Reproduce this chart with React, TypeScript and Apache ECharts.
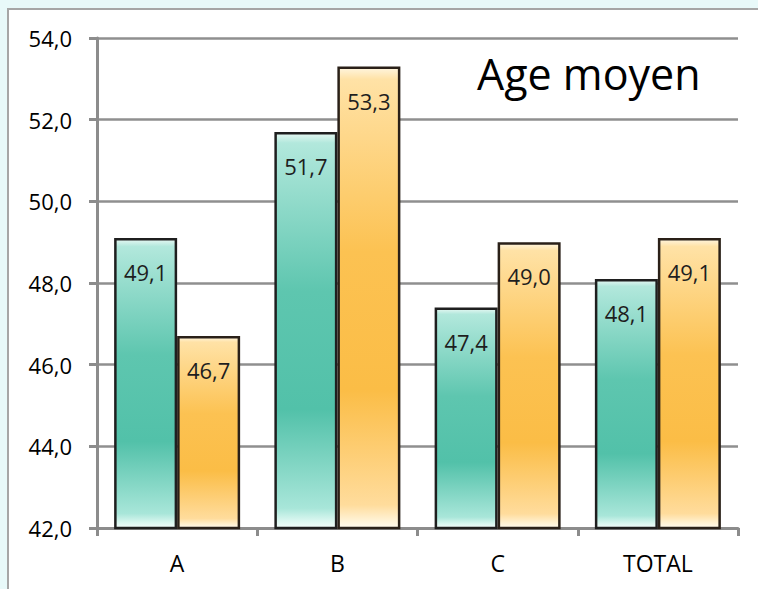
import React, { useEffect, useRef } from "react";
import * as echarts from "echarts";

const categories = ["A", "B", "C", "TOTAL"];
const seriesTeal = [49.1, 51.7, 47.4, 48.1];
const seriesOrange = [46.7, 53.3, 49.0, 49.1];
const yMin = 42;
const yMax = 54;
const yInterval = 2;
const titleText = "Age moyen";

const FONT = "'Open Sans', 'DejaVu Sans', sans-serif";
const fmt = (v: number) => v.toFixed(1).replace(".", ",");

const tealGrad = new echarts.graphic.LinearGradient(0, 0, 0, 1, [
  { offset: 0, color: "#e6f8f3" },
  { offset: 0.025, color: "#b2e8dc" },
  { offset: 0.4, color: "#5ec6af" },
  { offset: 0.7, color: "#52c1a9" },
  { offset: 0.95, color: "#a8e6d9" },
  { offset: 0.98, color: "#d8f6ef" },
  { offset: 1, color: "#f4fdfb" },
]);
const orangeGrad = new echarts.graphic.LinearGradient(0, 0, 0, 1, [
  { offset: 0, color: "#fff5de" },
  { offset: 0.025, color: "#ffe2a6" },
  { offset: 0.4, color: "#fcc252" },
  { offset: 0.7, color: "#fbbd46" },
  { offset: 0.95, color: "#ffdc9c" },
  { offset: 0.98, color: "#fff0cf" },
  { offset: 1, color: "#fffaee" },
]);

const labelStyle = {
  show: true,
  position: "insideTop" as const,
  distance: 23,
  fontSize: 22,
  fontFamily: FONT,
  color: "#1e1e1e",
  formatter: (p: any) => fmt(p.value),
};

export default function App() {
  const ref = useRef<HTMLDivElement>(null);
  useEffect(() => {
    if (!ref.current) return;
    const chart = echarts.init(ref.current, undefined, { renderer: "svg" });
    chart.setOption({
      animation: false,
      backgroundColor: "transparent",
      grid: { left: 97, right: 20, top: 38, bottom: 61 },
      graphic: [
        {
          type: "text",
          left: 477,
          top: 52,
          style: {
            text: titleText,
            fontSize: 43,
            fontFamily: FONT,
            fill: "#000",
          },
        },
      ],
      xAxis: {
        type: "category",
        data: categories,
        axisLine: { lineStyle: { color: "#8c8c8c", width: 3 } },
        axisTick: { show: true, length: 8, lineStyle: { color: "#8c8c8c", width: 3 } },
        axisLabel: {
          fontSize: 23,
          fontFamily: FONT,
          color: "#000",
          margin: 23,
        },
      },
      yAxis: {
        type: "value",
        min: yMin,
        max: yMax,
        interval: yInterval,
        axisLine: { show: true, lineStyle: { color: "#8c8c8c", width: 3 } },
        axisTick: { show: true, length: 8, lineStyle: { color: "#8c8c8c", width: 3 } },
        splitLine: { show: true, lineStyle: { color: "#8f8f8f", width: 2.5 } },
        axisLabel: {
          fontSize: 22,
          fontFamily: FONT,
          color: "#000",
          margin: 25,
          padding: [8, 0, 0, 0],
          formatter: (v: number) => fmt(v),
        },
      },
      series: [
        {
          type: "bar",
          data: seriesTeal,
          barWidth: 63,
          barGap: "0%",
          itemStyle: { color: tealGrad, borderColor: "#1f1f1f", borderWidth: 2.5 },
          label: labelStyle,
        },
        {
          type: "bar",
          data: seriesOrange,
          barWidth: 63,
          barGap: "0%",
          itemStyle: { color: orangeGrad, borderColor: "#2a2018", borderWidth: 2.5 },
          label: labelStyle,
        },
      ],
    });
    return () => chart.dispose();
  }, []);

  return (
    <div
      style={{
        position: "fixed",
        left: 0,
        top: 0,
        width: 758,
        height: 589,
        overflow: "hidden",
        background: "#e8f9f9",
      }}
    >
      <div
        style={{
          position: "absolute",
          left: 7,
          top: 8,
          width: 820,
          height: 700,
          background: "#fff",
          border: "2px solid #a6a6a6",
        }}
      />
      <div
        ref={ref}
        style={{ position: "absolute", left: 0, top: 0, width: 758, height: 589 }}
      />
    </div>
  );
}
